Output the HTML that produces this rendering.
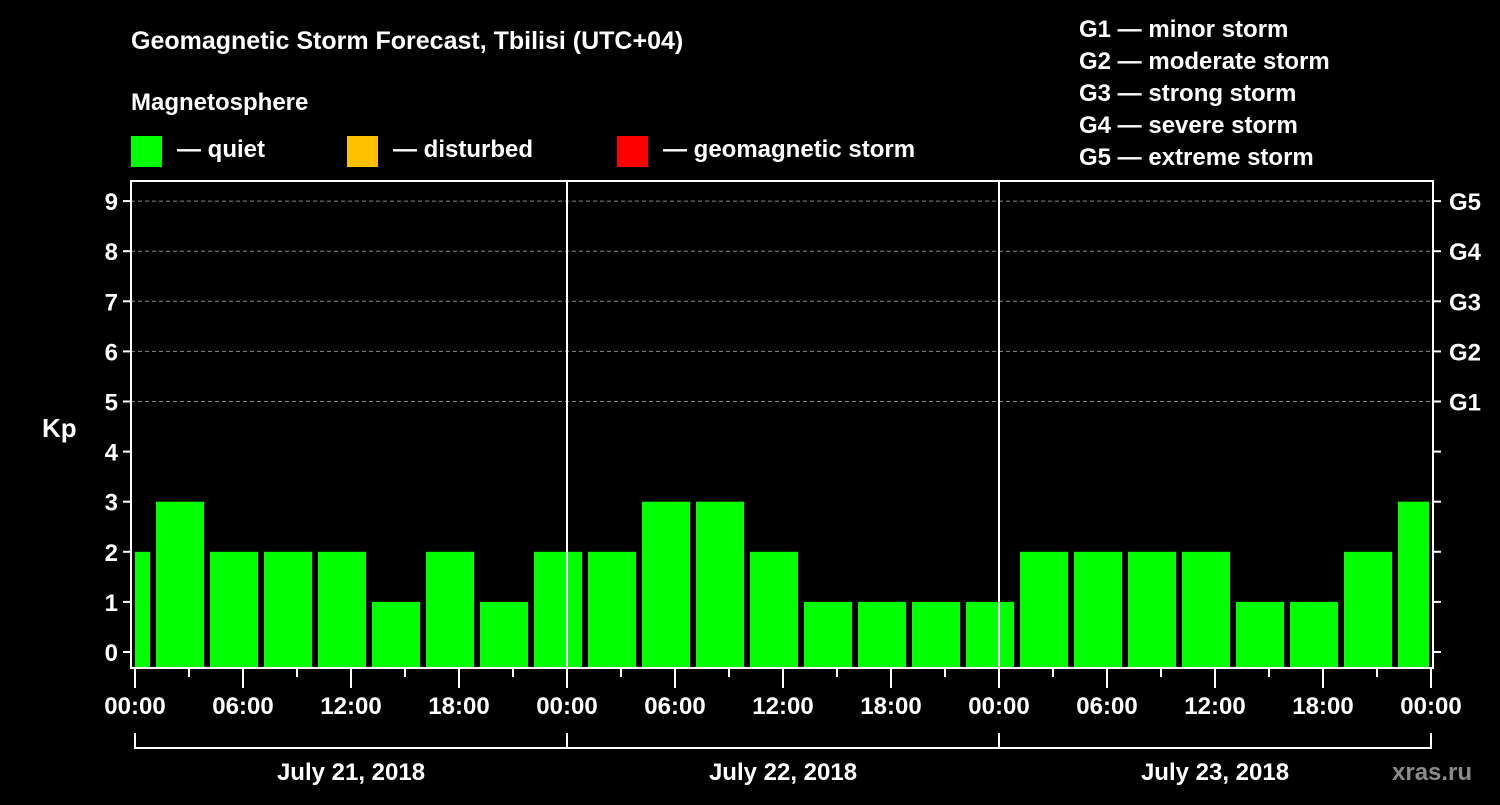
<!DOCTYPE html>
<html><head><meta charset="utf-8"><style>
html,body{margin:0;padding:0;background:#000;}
svg text{font-family:"Liberation Sans",Arial,sans-serif;font-weight:bold;fill:#fff;}
</style></head><body>
<svg id="chart" width="1500" height="800" viewBox="0 0 1500 800" xmlns="http://www.w3.org/2000/svg">
<rect width="1500" height="800" fill="#000"/>
<text x="131" y="49" font-size="25">Geomagnetic Storm Forecast, Tbilisi (UTC+04)</text>
<text x="131" y="110" font-size="24">Magnetosphere</text>
<rect x="131" y="136" width="31" height="31" fill="#00ff00"/>
<text x="177" y="157" font-size="24">— quiet</text>
<rect x="347" y="136" width="31" height="31" fill="#ffc000"/>
<text x="393" y="157" font-size="24">— disturbed</text>
<rect x="617" y="136" width="31" height="31" fill="#ff0000"/>
<text x="663" y="157" font-size="24">— geomagnetic storm</text>
<g font-size="24">
<text x="1079" y="37">G1 — minor storm</text>
<text x="1079" y="69">G2 — moderate storm</text>
<text x="1079" y="101">G3 — strong storm</text>
<text x="1079" y="133">G4 — severe storm</text>
<text x="1079" y="165">G5 — extreme storm</text>
</g>
<g id="grid"></g>
<g id="bars"></g>
<g id="axes"></g>
<text x="42" y="437" font-size="26">Kp</text>
<text x="1392" y="780" font-size="24" fill="#888" style="fill:#8a8a8a">xras.ru</text>
</svg>
<script>
const kpValues = [2,3,2,2,2,1,2,1,2, 2,3,3,2,1,1,1,1, 2,2,2,2,1,1,2,3];
const dayLabels = ["July 21, 2018","July 22, 2018","July 23, 2018"];
const hourLabels = ["00:00","06:00","12:00","18:00"];
const gLabels = ["G1","G2","G3","G4","G5"];
const NS="http://www.w3.org/2000/svg";
const X0=135, PXH=18, Y0=652, PXK=50.1, TOP=181, BOT=668, L=131, R=1433;
const xs=h=>X0+h*PXH, ys=k=>Y0-k*PXK;
function mk(tag,attrs,parent){const e=document.createElementNS(NS,tag);for(const k in attrs)e.setAttribute(k,attrs[k]);parent.appendChild(e);return e;}
const grid=document.getElementById('grid'),bars=document.getElementById('bars'),axes=document.getElementById('axes');
for(let k=5;k<=9;k++){
  const l=mk('line',{x1:L,x2:R,y1:ys(k),y2:ys(k),stroke:'#888','stroke-width':1,'stroke-dasharray':'4,3'},grid);
  
  
}
const clip=mk('clipPath',{id:'pc'},document.getElementById('chart'));
mk('rect',{x:X0,y:TOP,width:1429-X0,height:BOT-TOP},clip);
bars.setAttribute('clip-path','url(#pc)');
kpValues.forEach((v,i)=>{
  const c=xs(-0.5+3*i);
  const col=v>=5?'#ff0000':(v>=4?'#ffc000':'#00ff00');
  const r=mk('rect',{x:c-24,y:ys(v),width:48,height:BOT-1-ys(v),fill:col},bars);
  
  
});
// frame
const fr=mk('rect',{x:L,y:TOP,width:R-L,height:BOT-TOP,fill:'none',stroke:'#fff','stroke-width':2},axes);


for(let d=1;d<3;d++){const l=mk('line',{x1:xs(24*d),x2:xs(24*d),y1:TOP,y2:BOT,stroke:'#fff','stroke-width':2},axes);
  
  }
for(let k=0;k<=9;k++){
  mk('line',{x1:L-8,x2:L,y1:ys(k),y2:ys(k),stroke:'#fff','stroke-width':2},axes);
  mk('line',{x1:R,x2:R+8,y1:ys(k),y2:ys(k),stroke:'#fff','stroke-width':2},axes);
  const t=mk('text',{x:L-13,y:ys(k)+9,'font-size':24,'text-anchor':'end'},axes);t.textContent=k;
  
  
}
gLabels.forEach((g,i)=>{const t=mk('text',{x:R+16,y:ys(5+i)+9,'font-size':24},axes);t.textContent=g;
  
  });
for(let h=0;h<=72;h+=3){
  const major=h%6===0;
  mk('line',{x1:xs(h),x2:xs(h),y1:BOT,y2:BOT+(major?20:9),stroke:'#fff','stroke-width':2},axes);
  if(major){const t=mk('text',{x:xs(h),y:714,'font-size':24,'text-anchor':'middle'},axes);
    t.textContent=hourLabels[(h/6)%4];
    
    }
}
mk('line',{x1:xs(0),x2:xs(72),y1:748,y2:748,stroke:'#fff','stroke-width':2},axes);
for(let d=0;d<=3;d++)mk('line',{x1:xs(24*d),x2:xs(24*d),y1:733,y2:749,stroke:'#fff','stroke-width':2},axes);
dayLabels.forEach((s,d)=>{const t=mk('text',{x:xs(24*d+12),y:780,'font-size':24,'text-anchor':'middle'},axes);t.textContent=s;
  
  });
</script>
</body></html>
